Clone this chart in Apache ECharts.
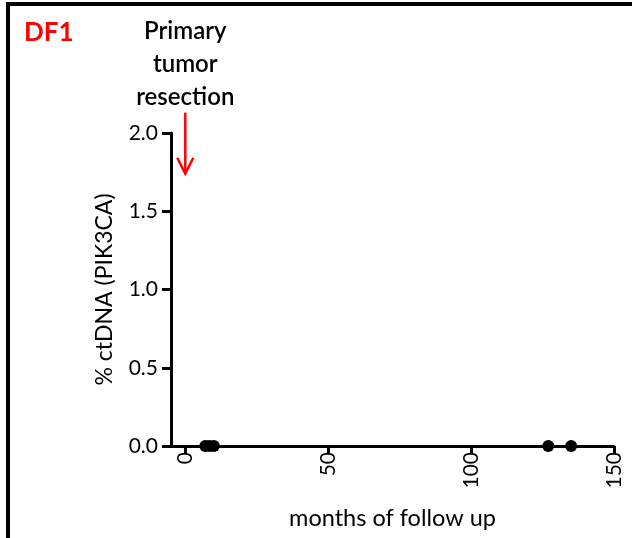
<!DOCTYPE html>
<html>
<head>
<meta charset="utf-8">
<script src="https://cdn.jsdelivr.net/npm/echarts@6/dist/echarts.min.js"></script>
<style>
  html, body { margin: 0; padding: 0; background: #fff; }
  #chart { width: 632px; height: 538px; }
</style>
</head>
<body>
<div id="chart"></div>
<script>
// ctDNA follow-up for patient DF1: months since resection vs % ctDNA
const months = [7, 8.5, 10, 127, 135];
const ctDNA = [0, 0, 0, 0, 0];
const xTicks = [0, 50, 100, 150];
const yTicks = [0, 0.5, 1.0, 1.5, 2.0];
const resectionMonth = 0;

const FONT = 'Lato';
const chart = echarts.init(document.getElementById('chart'), null, { renderer: 'canvas' });

const frame = [
  { type: 'rect', shape: { x: 6, y: 2, width: 626, height: 4 }, style: { fill: '#000' }, z: 10 },
  { type: 'rect', shape: { x: 6, y: 2, width: 4, height: 536 }, style: { fill: '#000' }, z: 10 },
  {
    type: 'text', left: 24, top: 20,
    style: { text: 'DF1', fontFamily: FONT, fontSize: 26, fontWeight: 'bold', fill: '#ff0000' }
  }
];

const option = {
  animation: false,
  backgroundColor: '#ffffff',
  grid: { left: 171, right: 18, top: 133, bottom: 92, containLabel: false },
  xAxis: {
    type: 'value',
    min: -5,
    max: 150,
    name: 'months of follow up',
    nameLocation: 'middle',
    nameGap: 60,
    nameTextStyle: { fontFamily: FONT, fontSize: 23.5, color: '#000' },
    axisLine: { show: true, onZero: false, lineStyle: { color: '#000', width: 3 } },
    axisTick: { show: true, length: 8, lineStyle: { color: '#000', width: 3 }, customValues: xTicks },
    axisLabel: { rotate: 90, margin: 6, fontFamily: FONT, fontSize: 21, color: '#000', customValues: xTicks },
    splitLine: { show: false }
  },
  yAxis: {
    type: 'value',
    min: 0,
    max: 2,
    name: '% ctDNA (PIK3CA)',
    nameLocation: 'middle',
    nameGap: 55,
    nameRotate: 90,
    nameTextStyle: { fontFamily: FONT, fontSize: 23, color: '#000' },
    axisLine: { show: true, onZero: false, lineStyle: { color: '#000', width: 3 } },
    axisTick: { show: true, length: 9, lineStyle: { color: '#000', width: 3 }, customValues: yTicks },
    axisLabel: {
      margin: 13, fontFamily: FONT, fontSize: 21, color: '#000', customValues: yTicks,
      formatter: v => v.toFixed(1)
    },
    splitLine: { show: false }
  },
  series: [{
    type: 'scatter',
    data: months.map((m, i) => [m, ctDNA[i]]),
    symbol: 'circle',
    symbolSize: 12,
    itemStyle: { color: '#000', opacity: 1 },
    clip: false,
    z: 5
  }],
  graphic: frame
};
chart.setOption(option);

// resection annotation anchored to the x-axis scale
const arrowStart = chart.convertToPixel({ gridIndex: 0 }, [resectionMonth, 2.13]);
const arrowTip = chart.convertToPixel({ gridIndex: 0 }, [resectionMonth, 1.74]);
chart.setOption({
  graphic: frame.concat([
    {
      type: 'text', x: arrowStart[0], y: 15,
      style: {
        text: 'Primary\ntumor\nresection', align: 'center', verticalAlign: 'top',
        fontFamily: FONT, fontSize: 24, fontWeight: 600, lineHeight: 33, fill: '#000'
      }
    },
    {
      type: 'line', shape: { x1: arrowStart[0], y1: arrowStart[1], x2: arrowTip[0], y2: arrowTip[1] },
      style: { stroke: '#ff0000', lineWidth: 2.5 }
    },
    {
      type: 'polyline',
      shape: { points: [[arrowTip[0] - 8, arrowTip[1] - 16], [arrowTip[0], arrowTip[1]], [arrowTip[0] + 8, arrowTip[1] - 16]] },
      style: { stroke: '#ff0000', lineWidth: 2.5, fill: null }
    }
  ])
}, { replaceMerge: ['graphic'] });
</script>
</body>
</html>
